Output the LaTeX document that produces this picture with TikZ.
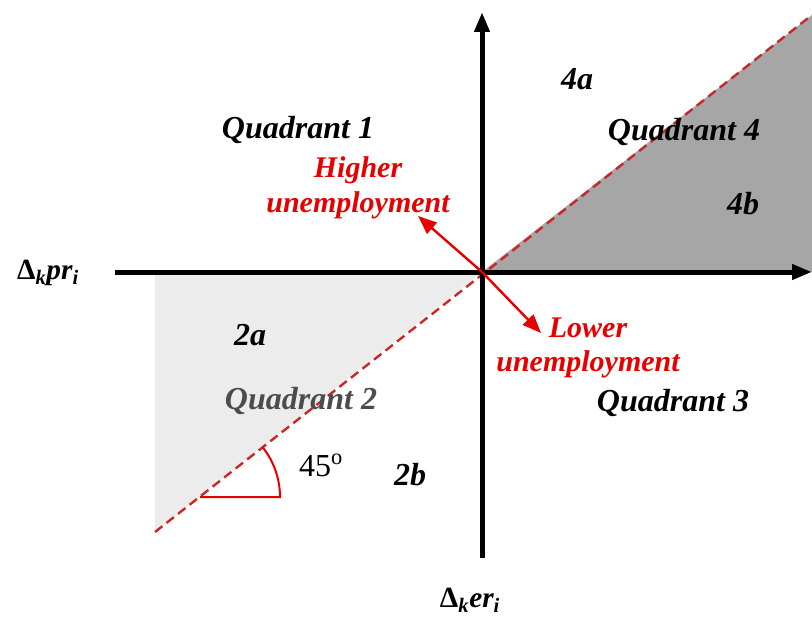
\documentclass[tikz,border=0pt]{standalone}
\usepackage{fontspec}
\setmainfont{Liberation Serif}
\usepackage{tikz}
\usetikzlibrary{arrows.meta,positioning,calc}
\definecolor{darkfill}{HTML}{A6A6A6}
\definecolor{lightfill}{HTML}{ECECEC}
\definecolor{dashred}{HTML}{C82828}
\definecolor{labelred}{HTML}{E60000}

\begin{document}
\begin{tikzpicture}[x=0.75pt,y=-0.75pt,
quadlabel/.style={font=\bfseries\itshape\fontsize{24}{28}\selectfont},
redlabel/.style={font=\bfseries\itshape\fontsize{22.5}{26}\selectfont,text=labelred,align=center},
axislabel/.style={font=\bfseries\itshape\fontsize{22}{24}\selectfont},
axis/.style={line width=3.75pt,-{Triangle[length=15pt,width=11pt]}},
redarr/.style={labelred,line width=1.8pt,-{Triangle[length=14pt,width=11pt]}},
diag/.style={dashred,line width=1.8pt,dash pattern=on 7pt off 4pt}]
\useasboundingbox (0,0) rectangle (812,620);
% origin and axis ends
\coordinate (o) at (482,272);
\coordinate (xl) at (115,272);
\coordinate (xr) at (812,272);
\coordinate (yb) at (482,558);
\coordinate (yt) at (482,12);
\coordinate (dl) at (155,532);
\coordinate (dr) at (812,15);
% shaded areas
\fill[lightfill] (o) -- (155,272) -- (dl) -- cycle;
\fill[darkfill] (o) -- (dr) -- (xr) -- cycle;
\draw[diag] (dl) -- (dr);
\draw[axis] (xl) -- (xr);
\draw[axis] (yb) -- (yt);
% direction arrows
\coordinate (hi) at (418,216);
\coordinate (lo) at (541,333);
\draw[redarr] (o) -- (hi);
\draw[redarr] (o) -- (lo);
% 45 degree mark
\coordinate (av) at (200,497);
\coordinate (ae) at (280,497);
\draw[labelred,line width=1.5pt] (av) -- (ae) arc[start angle=0,end angle=38.5,radius=60pt];
\node[font=\fontsize{24}{26}\selectfont] (deg) at (321,465) {45\textsuperscript{o}};
% labels
\node[quadlabel] (q1) at (298,130) {Quadrant 1};
\node[quadlabel] (q4) at (684,132) {Quadrant 4};
\node[quadlabel,text=black!70] (q2) at (301,401) {Quadrant 2};
\node[quadlabel] (q3) at (673,403) {Quadrant 3};
\node[quadlabel] (l4a) at (577,79) {4a};
\node[quadlabel] (l4b) at (743,204) {4b};
\node[quadlabel] (l2a) at (250,335) {2a};
\node[quadlabel] (l2b) at (410,475) {2b};
\node[redlabel] (higher) at (358,188) {Higher\\unemployment};
\node[redlabel] (lower) at (588,348) {Lower\\unemployment};
\node[axislabel] (xlab) at (48,273) {{\upshape Δ}\textsubscript{k}pr\textsubscript{i}};
\node[axislabel] (ylab) at (470,600) {{\upshape Δ}\textsubscript{k}er\textsubscript{i}};
\end{tikzpicture}
\end{document}
